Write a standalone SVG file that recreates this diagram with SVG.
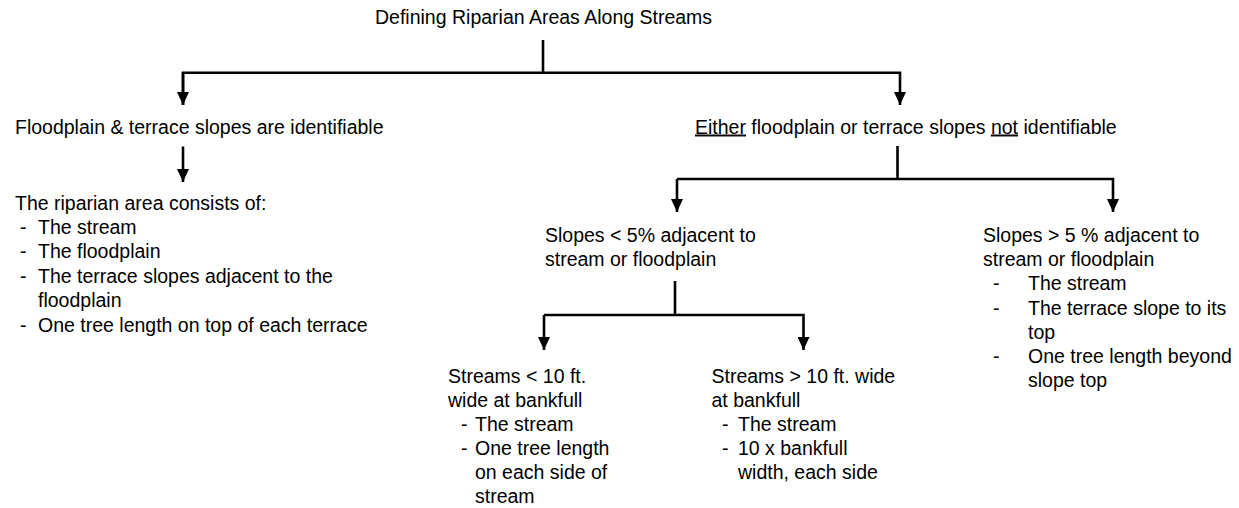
<svg xmlns="http://www.w3.org/2000/svg" width="1239" height="508" viewBox="0 0 1239 508">
<style>
  text { font-family: "Liberation Sans", Arial, sans-serif; font-size: 19.5px; fill: #000; }
  .c { fill: none; stroke: #000; stroke-width: 2.6; }
  .u { text-decoration: underline; }
</style>
<defs>
  <marker id="ah" viewBox="0 0 13 12" refX="13" refY="6" markerWidth="13" markerHeight="12" markerUnits="userSpaceOnUse" orient="auto">
    <path d="M0,0 L13,6 L0,12 z" fill="#000"/>
  </marker>
</defs>
<rect width="1239" height="508" fill="#fff"/>
<g id="connectors">
  <line class="c" x1="543" y1="40" x2="543" y2="72.7"/>
  <path class="c" d="M183,105 V72.7 H900 V105" marker-end="url(#ah)"/>
  <line class="c" x1="183" y1="72.7" x2="183" y2="105" marker-end="url(#ah)"/>
  <line class="c" x1="183" y1="146.5" x2="183" y2="182" marker-end="url(#ah)"/>
  <line class="c" x1="897.5" y1="146" x2="897.5" y2="179"/>
  <path class="c" d="M677,179 H1113 V212" marker-end="url(#ah)"/>
  <line class="c" x1="677" y1="179" x2="677" y2="212" marker-end="url(#ah)"/>
  <line class="c" x1="675" y1="281" x2="675" y2="315"/>
  <path class="c" d="M544,315 H803.5 V350" marker-end="url(#ah)"/>
  <line class="c" x1="544" y1="315" x2="544" y2="350" marker-end="url(#ah)"/>
</g>
<g id="title">
  <text x="375" y="24">Defining Riparian Areas Along Streams</text>
</g>
<g id="node-identifiable">
  <text x="15" y="133.5">Floodplain &amp; terrace slopes are identifiable</text>
</g>
<g id="node-not-identifiable">
  <text x="695" y="133.5"><tspan class="u">Either</tspan> floodplain or terrace slopes <tspan class="u">not</tspan> identifiable</text>
</g>
<g id="node-riparian-area">
  <text x="15" y="209.5">The riparian area consists of:</text>
  <text x="20" y="233.9">-</text><text x="38" y="233.9">The stream</text>
  <text x="20" y="258.3">-</text><text x="38" y="258.3">The floodplain</text>
  <text x="20" y="282.7">-</text><text x="38" y="282.7">The terrace slopes adjacent to the</text>
  <text x="38" y="307.1">floodplain</text>
  <text x="20" y="331.5">-</text><text x="38" y="331.5">One tree length on top of each terrace</text>
</g>
<g id="node-slopes-lt5">
  <text x="545" y="241.5">Slopes &lt; 5% adjacent to</text>
  <text x="545" y="265.5">stream or floodplain</text>
</g>
<g id="node-slopes-gt5">
  <text x="983" y="242">Slopes &gt; 5 % adjacent to</text>
  <text x="983" y="266.2">stream or floodplain</text>
  <text x="993" y="290.4">-</text><text x="1028" y="290.4">The stream</text>
  <text x="993" y="314.6">-</text><text x="1028" y="314.6">The terrace slope to its</text>
  <text x="1028" y="338.8">top</text>
  <text x="993" y="363">-</text><text x="1028" y="363">One tree length beyond</text>
  <text x="1028" y="387.2">slope top</text>
</g>
<g id="node-streams-lt10">
  <text x="448" y="382.5">Streams &lt; 10 ft.</text>
  <text x="448" y="406.5">wide at bankfull</text>
  <text x="461" y="430.5">-</text><text x="475" y="430.5">The stream</text>
  <text x="461" y="454.5">-</text><text x="475" y="454.5">One tree length</text>
  <text x="475" y="478.5">on each side of</text>
  <text x="475" y="502.5">stream</text>
</g>
<g id="node-streams-gt10">
  <text x="711.5" y="382.5">Streams &gt; 10 ft. wide</text>
  <text x="711.5" y="406.5">at bankfull</text>
  <text x="722" y="430.5">-</text><text x="738" y="430.5">The stream</text>
  <text x="722" y="454.5">-</text><text x="738" y="454.5">10 x bankfull</text>
  <text x="738" y="478.5">width, each side</text>
</g>
</svg>
